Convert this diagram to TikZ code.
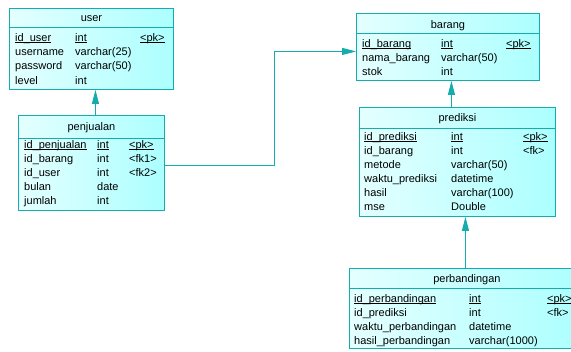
\documentclass[tikz,border=0pt]{standalone}
\usepackage{fontspec}
\setmainfont{Liberation Sans}
\usetikzlibrary{arrows.meta}

\definecolor{erline}{RGB}{20,172,172}
\definecolor{erfillL}{RGB}{228,255,255}
\definecolor{erfillR}{RGB}{172,255,255}
\newcommand{\pk}[1]{\setbox0\hbox{#1}\rlap{\rule[-1.6pt]{\wd0}{0.7pt}}\box0}

\tikzset{
  tbl/.style={draw=erline, line width=0.9pt, left color=erfillL, right color=erfillR,
    anchor=north west, inner sep=0pt},
  fld/.style={anchor=base west, inner sep=0pt, font=\fontsize{11}{12}\selectfont},
  ttl/.style={anchor=base, inner sep=0pt, font=\fontsize{11}{12}\selectfont},
  sep/.style={draw=erline, line width=0.9pt},
  fk/.style={draw=erline, line width=0.9pt, -{Triangle[length=14pt,width=7pt]}}
}

\begin{document}
\begin{tikzpicture}[x=1pt,y=-1pt]
\fill[white] (0,0) rectangle (571,352);
\useasboundingbox (0,0) rectangle (571,352);

% tables
\node[tbl, minimum width=164pt, minimum height=81pt] (user) at (9,8) {};
\node[tbl, minimum width=146pt, minimum height=95pt] (penjualan) at (18,115) {};
\node[tbl, minimum width=183pt, minimum height=67pt] (barang) at (356,13) {};
\node[tbl, minimum width=196pt, minimum height=109pt] (prediksi) at (359,107) {};
\node[tbl, minimum width=235pt, minimum height=80pt] (perbandingan) at (349,268) {};

% header lines
\draw[sep] ([yshift=-19pt]user.north west) -- ([yshift=-19pt]user.north east);
\draw[sep] ([yshift=-23pt]penjualan.north west) -- ([yshift=-23pt]penjualan.north east);
\draw[sep] ([yshift=-20pt]barang.north west) -- ([yshift=-20pt]barang.north east);
\draw[sep] ([yshift=-21pt]prediksi.north west) -- ([yshift=-21pt]prediksi.north east);
\draw[sep] ([yshift=-20pt]perbandingan.north west) -- ([yshift=-20pt]perbandingan.north east);

% titles
\node[ttl] (user-t) at ([yshift=-14pt]user.north) {user};
\node[ttl] (penjualan-t) at ([yshift=-16pt]penjualan.north) {penjualan};
\node[ttl] (barang-t) at ([yshift=-16pt]barang.north) {barang};
\node[ttl] (prediksi-t) at ([yshift=-15pt]prediksi.north) {prediksi};
\node[ttl] (perbandingan-t) at ([yshift=-15pt]perbandingan.north) {perbandingan};

% columns
\foreach \nm/\ty/\ky [count=\i] in {\pk{id\_user}/\pk{int}/\pk{<pk>},
    username/varchar(25)/{}, password/varchar(50)/{}, level/int/{}}{
  \node[fld] (user-n\i) at (15,{27+14.3*\i}) {\nm};
  \node[fld] (user-y\i) at (75,{27+14.3*\i}) {\ty};
  \node[fld] (user-k\i) at (140,{27+14.3*\i}) {\ky};
}
\foreach \nm/\ty/\ky [count=\i] in {\pk{id\_penjualan}/\pk{int}/\pk{<pk>},
    id\_barang/int/<fk1>, id\_user/int/<fk2>, bulan/date/{}, jumlah/int/{}}{
  \node[fld] (penjualan-n\i) at (24,{134+14.2*\i}) {\nm};
  \node[fld] (penjualan-y\i) at (97,{134+14.2*\i}) {\ty};
  \node[fld] (penjualan-k\i) at (129,{134+14.2*\i}) {\ky};
}
\foreach \nm/\ty/\ky [count=\i] in {\pk{id\_barang}/\pk{int}/\pk{<pk>},
    nama\_barang/varchar(50)/{}, stok/int/{}}{
  \node[fld] (barang-n\i) at (362,{33+14.3*\i}) {\nm};
  \node[fld] (barang-y\i) at (441,{33+14.3*\i}) {\ty};
  \node[fld] (barang-k\i) at (506,{33+14.3*\i}) {\ky};
}
\foreach \nm/\ty/\ky [count=\i] in {\pk{id\_prediksi}/\pk{int}/\pk{<pk>},
    id\_barang/int/<fk>, metode/varchar(50)/{}, waktu\_prediksi/datetime/{},
    hasil/varchar(100)/{}, mse/Double/{}}{
  \node[fld] (prediksi-n\i) at (364,{126+14.1*\i}) {\nm};
  \node[fld] (prediksi-y\i) at (451,{126+14.1*\i}) {\ty};
  \node[fld] (prediksi-k\i) at (523,{126+14.1*\i}) {\ky};
}
\foreach \nm/\ty/\ky [count=\i] in {\pk{id\_perbandingan}/\pk{int}/\pk{<pk>},
    id\_prediksi/int/<fk>, waktu\_perbandingan/datetime/{},
    hasil\_perbandingan/varchar(1000)/{}}{
  \node[fld] (perbandingan-n\i) at (354,{288+14.2*\i}) {\nm};
  \node[fld] (perbandingan-y\i) at (469,{288+14.2*\i}) {\ty};
  \node[fld] (perbandingan-k\i) at (547,{288+14.2*\i}) {\ky};
}

% references
\coordinate (u1) at ([xshift=4pt]user.south);
\coordinate (b1) at ([xshift=3.5pt]barang.south);
\coordinate (b2) at ([yshift=-4.5pt]barang.west);
\coordinate (p1) at ([xshift=8pt]prediksi.south);
\draw[fk] (penjualan.north -| u1) -- (u1);
\draw[fk] ([yshift=-2.5pt]penjualan.east) -- ++(110,0) |- (b2);
\draw[fk] (prediksi.north -| b1) -- (b1);
\draw[fk] (perbandingan.north -| p1) -- (p1);
\end{tikzpicture}
\end{document}
